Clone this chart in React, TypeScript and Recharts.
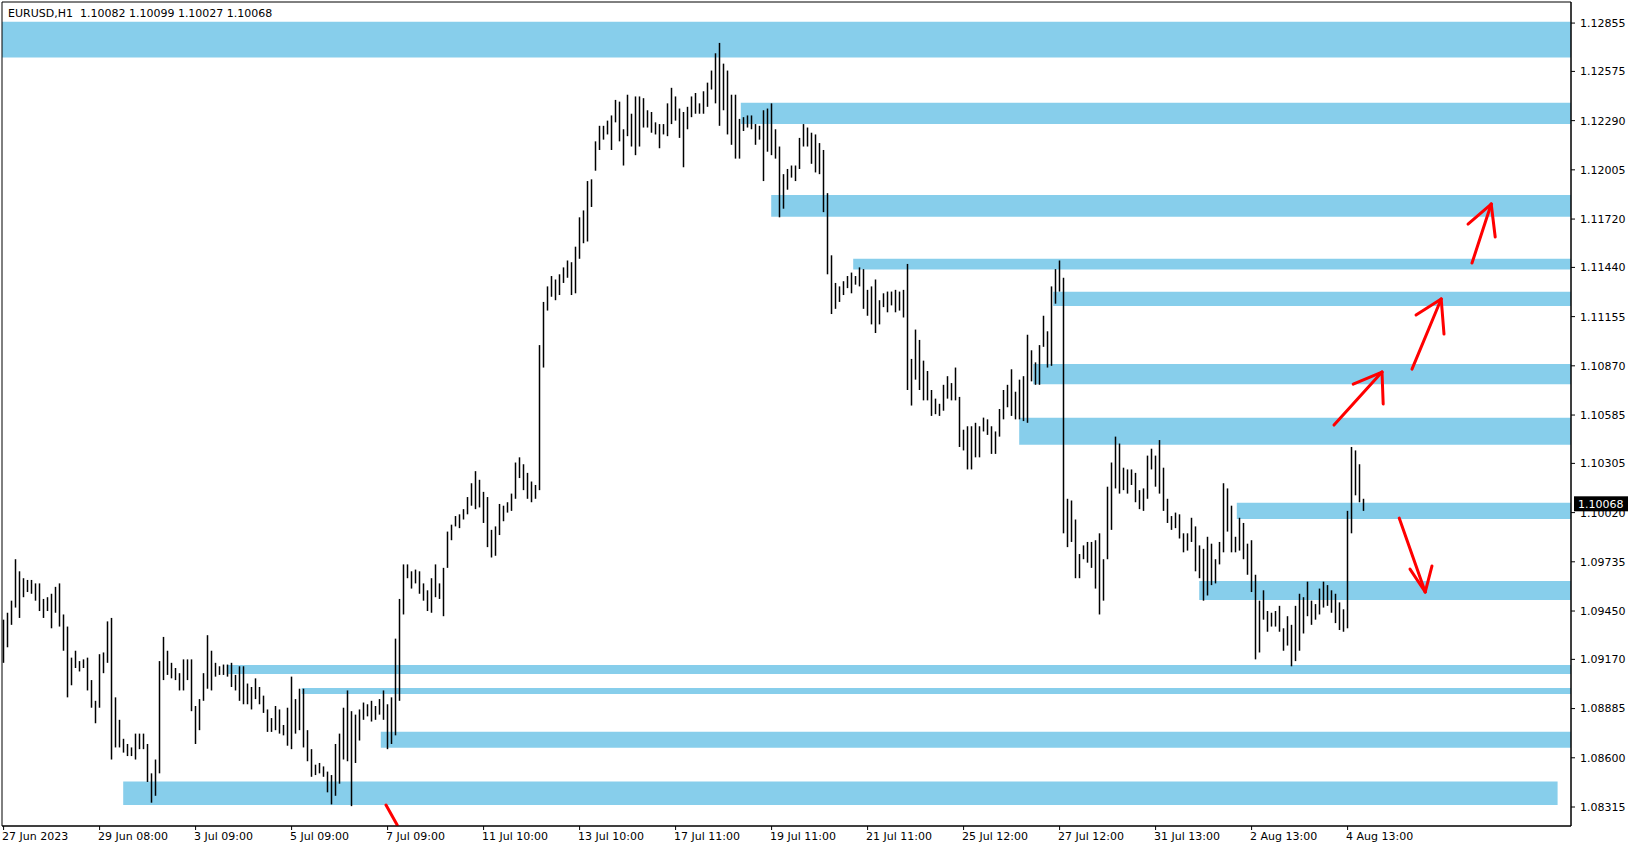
import { ComposedChart, Bar, XAxis, YAxis, ReferenceArea, ReferenceLine } from "recharts"

// EURUSD H1, aggregated into 2-hour bars (high / low)
const highs = [
  1.0940, 1.0944, 1.0951, 1.0975, 1.0968, 1.0964, 1.0963, 1.0963, 1.0961, 1.0961, 1.0952, 1.0953,
  1.0955, 1.0959, 1.0961, 1.0943, 1.0936, 1.0918, 1.0922, 1.0916, 1.0917, 1.0918, 1.0905, 1.0893,
  1.0920, 1.0921, 1.0939, 1.0941, 1.0895, 1.0882, 1.0871, 1.0868, 1.0866, 1.0874, 1.0874, 1.0874,
  1.0868, 1.0851, 1.0859, 1.0916, 1.0930, 1.0922, 1.0915, 1.0912, 1.0909, 1.0917, 1.0917, 1.0917,
  1.0890, 1.0894, 1.0909, 1.0931, 1.0922, 1.0915, 1.0913, 1.0914, 1.0914, 1.0915, 1.0908, 1.0913,
  1.0913, 1.0903, 1.0901, 1.0906, 1.0901, 1.0896, 1.0888, 1.0883, 1.0890, 1.0888, 1.0879, 1.0889,
  1.0907, 1.0894, 1.0900, 1.0900, 1.0876, 1.0865, 1.0856, 1.0857, 1.0855, 1.0852, 1.0850, 1.0868,
  1.0874, 1.0889, 1.0899, 1.0887, 1.0885, 1.0888, 1.0892, 1.0891, 1.0893, 1.0890, 1.0894, 1.0899,
  1.0891, 1.0895, 1.0929, 1.0952, 1.0972, 1.0972, 1.0968, 1.0969, 1.0968, 1.0961, 1.0957, 1.0964,
  1.0972, 1.0961, 1.0970, 1.0991, 1.0995, 1.1000, 1.1001, 1.1004, 1.1011, 1.1019, 1.1026, 1.1021,
  1.1014, 1.1011, 1.0992, 1.0994, 1.1007, 1.1006, 1.1008, 1.1013, 1.1031, 1.1034, 1.1030, 1.1025,
  1.1020, 1.1018, 1.1099, 1.1124, 1.1133, 1.1139, 1.1137, 1.1140, 1.1144, 1.1148, 1.1147, 1.1156,
  1.1173, 1.1177, 1.1194, 1.1195, 1.1217, 1.1226, 1.1226, 1.1229, 1.1232, 1.1241, 1.1240, 1.1224,
  1.1244, 1.1233, 1.1243, 1.1243, 1.1242, 1.1235, 1.1234, 1.1228, 1.1227, 1.1227, 1.1239, 1.1248,
  1.1243, 1.1236, 1.1234, 1.1237, 1.1243, 1.1245, 1.1239, 1.1246, 1.1251, 1.1258, 1.1268, 1.1274,
  1.1262, 1.1258, 1.1244, 1.1244, 1.1230, 1.1231, 1.1232, 1.1232, 1.1227, 1.1226, 1.1235, 1.1236,
  1.1239, 1.1224, 1.1214, 1.1198, 1.1201, 1.1203, 1.1203, 1.1219, 1.1227, 1.1225, 1.1222, 1.1221,
  1.1216, 1.1212, 1.1187, 1.1151, 1.1135, 1.1133, 1.1136, 1.1139, 1.1141, 1.1139, 1.1144, 1.1143,
  1.1131, 1.1133, 1.1137, 1.1125, 1.1129, 1.1130, 1.1130, 1.1131, 1.1130, 1.1131, 1.1146, 1.1091,
  1.1108, 1.1102, 1.1090, 1.1084, 1.1073, 1.1068, 1.1065, 1.1076, 1.1081, 1.1077, 1.1086, 1.1069,
  1.1050, 1.1052, 1.1052, 1.1054, 1.1052, 1.1057, 1.1056, 1.1052, 1.1049, 1.1062, 1.1073, 1.1076,
  1.1085, 1.1072, 1.1079, 1.1081, 1.1105, 1.1096, 1.1089, 1.1099, 1.1116, 1.1107, 1.1133, 1.1143,
  1.1148, 1.1138, 1.1010, 1.1009, 1.0998, 1.0978, 1.0983, 1.0985, 1.0985, 1.0986, 1.0990, 1.0975,
  1.1017, 1.1031, 1.1046, 1.1042, 1.1028, 1.1027, 1.1027, 1.1025, 1.1015, 1.1016, 1.1035, 1.1039,
  1.1035, 1.1044, 1.1028, 1.1010, 1.1000, 1.1002, 1.1001, 1.0990, 1.0990, 1.0999, 1.0994, 1.0983,
  1.0981, 1.0988, 1.0984, 1.0975, 1.0985, 1.1019, 1.1016, 1.1006, 1.0988, 1.0999, 1.0996, 1.0984,
  1.0986, 1.0966, 1.0951, 1.0957, 1.0945, 1.0944, 1.0945, 1.0948, 1.0935, 1.0942, 1.0937, 1.0948,
  1.0955, 1.0953, 1.0962, 1.0951, 1.0949, 1.0958, 1.0962, 1.0960, 1.0957, 1.0955, 1.0950, 1.0946,
  1.1003, 1.1040, 1.1038, 1.1030, 1.1010,
]

const lows = [
  1.0915, 1.0924, 1.0937, 1.0947, 1.0941, 1.0953, 1.0956, 1.0955, 1.0951, 1.0945, 1.0941, 1.0945,
  1.0935, 1.0944, 1.0936, 1.0922, 1.0895, 1.0902, 1.0912, 1.0910, 1.0912, 1.0899, 1.0889, 1.0880,
  1.0889, 1.0909, 1.0915, 1.0859, 1.0866, 1.0866, 1.0863, 1.0861, 1.0861, 1.0859, 1.0865, 1.0865,
  1.0846, 1.0834, 1.0838, 1.0851, 1.0905, 1.0908, 1.0906, 1.0905, 1.0899, 1.0899, 1.0905, 1.0887,
  1.0868, 1.0876, 1.0893, 1.0900, 1.0899, 1.0907, 1.0908, 1.0908, 1.0907, 1.0901, 1.0899, 1.0893,
  1.0891, 1.0891, 1.0888, 1.0894, 1.0891, 1.0886, 1.0875, 1.0875, 1.0876, 1.0874, 1.0873, 1.0867,
  1.0865, 1.0874, 1.0876, 1.0866, 1.0858, 1.0849, 1.0850, 1.0851, 1.0849, 1.0840, 1.0833, 1.0838,
  1.0845, 1.0859, 1.0858, 1.0832, 1.0857, 1.0870, 1.0882, 1.0884, 1.0881, 1.0882, 1.0885, 1.0882,
  1.0865, 1.0868, 1.0873, 1.0893, 1.0943, 1.0964, 1.0958, 1.0961, 1.0955, 1.0951, 1.0945, 1.0944,
  1.0953, 1.0952, 1.0942, 1.0970, 1.0986, 1.0994, 1.0993, 1.0998, 1.1001, 1.1006, 1.1004, 1.1005,
  1.0996, 1.0982, 1.0976, 1.0977, 1.0989, 1.0997, 1.1002, 1.1003, 1.1010, 1.1022, 1.1015, 1.1010,
  1.1008, 1.1010, 1.1015, 1.1086, 1.1119, 1.1127, 1.1125, 1.1128, 1.1135, 1.1138, 1.1128, 1.1129,
  1.1149, 1.1158, 1.1159, 1.1179, 1.1200, 1.1212, 1.1218, 1.1221, 1.1212, 1.1228, 1.1217, 1.1203,
  1.1220, 1.1214, 1.1209, 1.1214, 1.1225, 1.1225, 1.1222, 1.1221, 1.1213, 1.1221, 1.1220, 1.1227,
  1.1229, 1.1219, 1.1202, 1.1224, 1.1231, 1.1233, 1.1233, 1.1233, 1.1237, 1.1247, 1.1239, 1.1226,
  1.1235, 1.1221, 1.1215, 1.1207, 1.1207, 1.1223, 1.1225, 1.1224, 1.1215, 1.1218, 1.1194, 1.1211,
  1.1209, 1.1207, 1.1173, 1.1178, 1.1189, 1.1196, 1.1194, 1.1201, 1.1214, 1.1214, 1.1204, 1.1199,
  1.1198, 1.1176, 1.1140, 1.1117, 1.1120, 1.1124, 1.1128, 1.1132, 1.1129, 1.1134, 1.1133, 1.1120,
  1.1116, 1.1111, 1.1106, 1.1111, 1.1121, 1.1118, 1.1122, 1.1118, 1.1119, 1.1115, 1.1073, 1.1064,
  1.1079, 1.1073, 1.1067, 1.1067, 1.1058, 1.1059, 1.1058, 1.1061, 1.1068, 1.1067, 1.1067, 1.1040,
  1.1038, 1.1027, 1.1027, 1.1034, 1.1034, 1.1049, 1.1047, 1.1036, 1.1036, 1.1046, 1.1056, 1.1063,
  1.1058, 1.1056, 1.1056, 1.1055, 1.1054, 1.1078, 1.1076, 1.1076, 1.1098, 1.1086, 1.1087, 1.1123,
  1.1130, 1.0990, 1.0982, 1.0985, 1.0964, 1.0964, 1.0975, 1.0973, 1.0970, 1.0958, 1.0943, 1.0951,
  1.0975, 1.0992, 1.1016, 1.1013, 1.1015, 1.1013, 1.1018, 1.1008, 1.1004, 1.1003, 1.1010, 1.1027,
  1.1017, 1.1013, 1.1003, 1.0996, 1.0992, 1.0993, 1.0987, 1.0979, 1.0980, 1.0985, 1.0968, 1.0964,
  1.0951, 1.0954, 1.0960, 1.0961, 1.0972, 1.0979, 1.0991, 1.0979, 1.0979, 1.0980, 1.0975, 1.0966,
  1.0956, 1.0917, 1.0921, 1.0940, 1.0933, 1.0936, 1.0936, 1.0933, 1.0922, 1.0925, 1.0913, 1.0916,
  1.0922, 1.0932, 1.0942, 1.0937, 1.0940, 1.0943, 1.0947, 1.0948, 1.0944, 1.0938, 1.0934, 1.0933,
  1.0935, 1.0990, 1.1012, 1.1008, 1.1003,
]

// last bar, shown in the header
const symbol = "EURUSD,H1"
const lastOpen = 1.10082
const lastHigh = 1.10099
const lastLow = 1.10027
const lastClose = 1.10068

// time axis: bar index of each label and its text
const xTickBars = [0, 24, 48, 72, 96, 120, 144, 168, 192, 216, 240, 264, 288, 312, 336]
const xTickLabels = [
  "27 Jun 2023", "29 Jun 08:00", "3 Jul 09:00", "5 Jul 09:00", "7 Jul 09:00",
  "11 Jul 10:00", "13 Jul 10:00", "17 Jul 11:00", "19 Jul 11:00", "21 Jul 11:00",
  "25 Jul 12:00", "27 Jul 12:00", "31 Jul 13:00", "2 Aug 13:00", "4 Aug 13:00",
]

const yTickLabels = [
  "1.12855", "1.12575", "1.12290", "1.12005", "1.11720", "1.11440", "1.11155", "1.10870",
  "1.10585", "1.10305", "1.10020", "1.09735", "1.09450", "1.09170", "1.08885", "1.08600", "1.08315",
]

// support / resistance zones: first bar, last bar, price low, price high
const zoneStart = [-0.4, 184.3, 191.9, 212.4, 262.4, 257.4, 253.9, 308.3, 298.9, 55.8, 74.5, 94.3, 29.9]
const zoneEnd = [391.85, 391.85, 391.85, 391.85, 391.85, 391.85, 391.85, 391.85, 391.85, 391.85, 391.85, 391.85, 388.5]
const zoneLow = [1.12656, 1.1227, 1.11733, 1.11428, 1.11216, 1.10764, 1.10413, 1.09983, 1.09514, 1.09085, 1.08969, 1.08658, 1.08327]
const zoneHigh = [1.12863, 1.12393, 1.11859, 1.1149, 1.11299, 1.1088, 1.10569, 1.10077, 1.09624, 1.09137, 1.09004, 1.08751, 1.08462]

// hand drawn red arrows: [bar, price, bar, price]
const arrowStrokes = [
  [348.9, 1.09988, 355.4, 1.0956],
  [351.6, 1.09693, 355.4, 1.0956],
  [357.1, 1.09711, 355.4, 1.0956],
  [332.6, 1.10527, 344.6, 1.10834],
  [337.4, 1.10764, 344.6, 1.10834],
  [344.6, 1.10834, 344.9, 1.10649],
  [352.1, 1.10851, 359.4, 1.11257],
  [353.1, 1.11164, 359.4, 1.11257],
  [359.4, 1.11257, 360.1, 1.11054],
  [367.1, 1.11465, 371.9, 1.11807],
  [366.1, 1.11691, 371.9, 1.11807],
  [371.9, 1.11807, 372.9, 1.11616],
  [95.6, 1.08326, 98.4, 1.08211],
]

const X_MIN = -0.4
const X_MAX = 391.85
const Y_MIN = 1.08205
const Y_MAX = 1.12977
const FONT = "'DejaVu Sans', Tahoma, sans-serif"

const bars = highs.map((h, i) => ({ i, range: [lows[i], h] }))

function HLBar(props: any) {
  const { x, y, width, height } = props
  if (x == null || y == null) return null
  const top = Math.min(y, y + height)
  const h = Math.max(Math.abs(height), 1)
  return <rect x={x + width / 2 - 0.75} y={top} width={1.5} height={h} fill="#000" />
}

function TimeTick(props: any) {
  const { x, y, payload } = props
  const idx = xTickBars.indexOf(payload.value)
  return (
    <g>
      <line x1={x} y1={y} x2={x} y2={y + 4} stroke="#000" />
      <text x={x - 1.5} y={y + 14} fontSize={11} fontFamily={FONT} fill="#000" textAnchor="start">
        {xTickLabels[idx]}
      </text>
    </g>
  )
}

function PriceTag(props: any) {
  const vb = props.viewBox
  if (!vb) return null
  const left = vb.x + vb.width + 3
  return (
    <g>
      <rect x={left} y={vb.y - 8} width={54} height={15} fill="#000" />
      <text x={left + 4} y={vb.y} dy="0.36em" fontSize={11} fontFamily={FONT} fill="#fff">
        {lastClose.toFixed(5)}
      </text>
    </g>
  )
}

export default function App() {
  return (
    <div style={{ position: "relative", width: 1635, height: 850, background: "#fff" }}>
      <style>{"body{margin:0;background:#fff}"}</style>
      <ComposedChart
        width={1635}
        height={850}
        data={bars}
        margin={{ top: 2, right: 0, left: 2, bottom: 0 }}
      >
        <XAxis
          type="number"
          dataKey="i"
          domain={[X_MIN, X_MAX]}
          allowDataOverflow
          ticks={xTickBars}
          interval={0}
          tick={<TimeTick />}
          tickLine={false}
          tickSize={0}
          tickMargin={0}
          height={24}
          axisLine={{ stroke: "#000" }}
        />
        <YAxis
          type="number"
          orientation="right"
          domain={[Y_MIN, Y_MAX]}
          allowDataOverflow
          ticks={yTickLabels.map(Number)}
          interval={0}
          tickFormatter={(v: number) => v.toFixed(5)}
          tick={{ fontSize: 11, fontFamily: FONT, fill: "#000" }}
          tickLine={{ stroke: "#000" }}
          tickSize={4}
          tickMargin={5}
          width={64}
          axisLine={{ stroke: "#000" }}
        />
        {zoneStart.map((s, k) => (
          <ReferenceArea
            key={"z" + k}
            x1={s}
            x2={zoneEnd[k]}
            y1={zoneLow[k]}
            y2={zoneHigh[k]}
            fill="#87ceeb"
            fillOpacity={1}
            stroke="none"
            ifOverflow="hidden"
          />
        ))}
        <Bar dataKey="range" shape={<HLBar />} isAnimationActive={false} />
        {arrowStrokes.map((a, k) => (
          <ReferenceLine
            key={"a" + k}
            segment={[{ x: a[0], y: a[1] }, { x: a[2], y: a[3] }]}
            stroke="#ff0000"
            strokeWidth={3}
            strokeLinecap="round"
            ifOverflow="hidden"
          />
        ))}
        <ReferenceLine y={lastClose} stroke="none" label={(p: any) => <PriceTag {...p} />} />
        <ReferenceArea
          x1={X_MIN}
          x2={X_MAX}
          y1={Y_MIN}
          y2={Y_MAX}
          fill="none"
          stroke="#000"
          strokeWidth={1}
        />
      </ComposedChart>
      <div
        style={{
          position: "absolute",
          left: 8,
          top: 7,
          fontFamily: FONT,
          fontSize: 11,
          lineHeight: "13px",
          whiteSpace: "pre",
          color: "#000",
        }}
      >
        {`${symbol}  ${lastOpen.toFixed(5)} ${lastHigh.toFixed(5)} ${lastLow.toFixed(5)} ${lastClose.toFixed(5)}`}
      </div>
    </div>
  )
}
